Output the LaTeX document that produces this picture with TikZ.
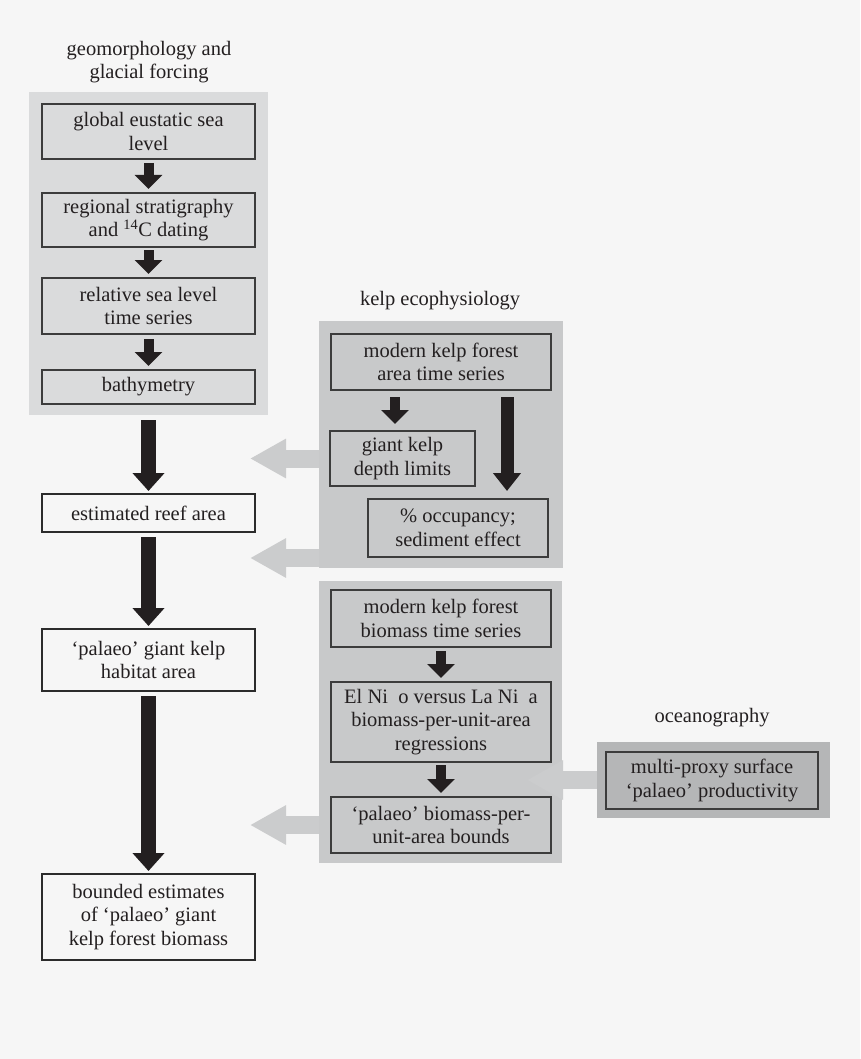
\documentclass[tikz,border=0pt]{standalone}
\usepackage{fontspec}
\setmainfont{Liberation Serif}
\usetikzlibrary{arrows.meta}
\definecolor{bgcol}{HTML}{F6F6F6}
\definecolor{geofill}{HTML}{DADBDC}
\definecolor{kelpfill}{HTML}{C8C9CA}
\definecolor{oceanfill}{HTML}{B5B6B7}
\definecolor{arrowgrey}{HTML}{CBCCCD}
\definecolor{arrowblack}{HTML}{231F20}
\definecolor{boxline}{HTML}{3C3C3C}
\definecolor{outline}{HTML}{2B2B2B}

\begin{document}
\begin{tikzpicture}[x=1pt,y=-1pt, font=\fontsize{20.5}{23.5}\selectfont, text=arrowblack,
	panel/.style={fill=#1, inner sep=0, outer sep=0},
	box/.style={draw=boxline, line width=1.5pt, fill=#1, align=center, inner sep=0, outer sep=0, minimum width=220},
	outbox/.style={draw=outline, line width=2pt, fill=bgcol, align=center, inner sep=0, outer sep=0, minimum width=213},
	smallarr/.style={draw=arrowblack, line width=10pt, -{Triangle[length=14pt,width=27pt]}, shorten <=4pt, shorten >=4pt},
	bigarr/.style={draw=arrowblack, line width=15pt, -{Triangle[length=18pt,width=31pt]}, shorten <=5pt, shorten >=3pt},
	greyarr/.style={draw=arrowgrey, line width=18pt, -{Triangle[length=36pt,width=37pt]}}]
\fill[bgcol] (0,0) rectangle (860,1059);
\useasboundingbox (0,0) rectangle (860,1059);

% panels and their titles
\node[panel=geofill, minimum width=239, minimum height=323] (geo) at (148.5,253.5) {};
\node[panel=kelpfill, minimum width=244, minimum height=247] (kelpA) at (441,444.5) {};
\node[panel=kelpfill, minimum width=243, minimum height=282] (kelpB) at (440.5,722) {};
\node[panel=oceanfill, minimum width=233, minimum height=76] (ocean) at (713.5,780) {};
\node[align=center] (geotitle) at (149,62) {geomorphology and\\glacial forcing};
\node (kelptitle) at (440,301) {kelp ecophysiology};
\node (oceantitle) at (712,718) {oceanography};

% grey arrows out of the panels
\coordinate (tipA) at (250,458.5);
\coordinate (tipB) at (250,558);
\coordinate (tipC) at (250,825);
\coordinate (tipD) at (527,780);
\draw[greyarr] (kelpA.west |- tipA) -- (tipA);
\draw[greyarr] (kelpA.west |- tipB) -- (tipB);
\draw[greyarr] (kelpB.west |- tipC) -- (tipC);
\draw[greyarr] (ocean.west) -- (tipD);

% geomorphology
\node[box=geofill, minimum width=213, minimum height=55] (eustatic) at (148.5,131.5) {global eustatic sea\\level};
\node[box=geofill, minimum width=213, minimum height=54] (strat) at (148.5,220) {regional stratigraphy\\and \textsuperscript{14}C dating};
\node[box=geofill, minimum width=213, minimum height=56] (rsl) at (148.5,306) {relative sea level\\time series};
\node[box=geofill, minimum width=213, minimum height=34] (bathy) at (148.5,387) {bathymetry};

% outcomes
\node[outbox, minimum height=38] (reef) at (148.5,513) {estimated reef area};
\node[outbox, minimum height=62] (habitat) at (148.5,660) {‘palaeo’ giant kelp\\habitat area};
\node[outbox, minimum height=86] (bounded) at (148.5,917) {bounded estimates\\of ‘palaeo’ giant\\kelp forest biomass};

% kelp ecophysiology
\node[box=kelpfill, minimum height=56] (areats) at (441,362) {modern kelp forest\\area time series};
\node[box=kelpfill, minimum width=145, minimum height=55] (depth) at (402.5,458.5) {giant kelp\\depth limits};
\node[box=kelpfill, minimum width=180, minimum height=58] (occupancy) at (458,528) {\% occupancy;\\sediment effect};
\node[box=kelpfill, minimum height=57] (biots) at (441,618.5) {modern kelp forest\\biomass time series};
\node[box=kelpfill, minimum height=80] (enso) at (441,722) {El Ni\phantom{ñ}o versus La Ni\phantom{ñ}a\\biomass-per-unit-area\\regressions};
\node[box=kelpfill, minimum height=56] (bounds) at (441,825) {‘palaeo’ biomass-per-\\unit-area bounds};

% oceanography
\node[box=oceanfill, minimum width=212, minimum height=57] (proxy) at (712,780.5) {multi-proxy surface\\‘palaeo’ productivity};

\draw[smallarr] (eustatic) -- (strat);
\draw[smallarr, shorten <=3pt] (strat) -- (rsl);
\draw[smallarr, shorten <=5pt] (rsl) -- (bathy);
\draw[bigarr] (geo) -- (reef);
\draw[bigarr] (reef) -- (habitat);
\draw[bigarr] (habitat) -- (bounded);
\draw[smallarr, shorten <=7pt, shorten >=7pt] ([xshift=-7.5pt]depth.north |- areats.south) -- ([xshift=-7.5pt]depth.north);
\draw[smallarr, line width=13pt, -{Triangle[length=18pt,width=27pt]}, shorten <=7pt, shorten >=8pt] ([xshift=49pt]occupancy.north |- areats.south) -- ([xshift=49pt]occupancy.north);
\draw[smallarr] (biots) -- (enso);
\draw[smallarr, shorten <=3pt] (enso) -- (bounds);
\end{tikzpicture}
\end{document}
